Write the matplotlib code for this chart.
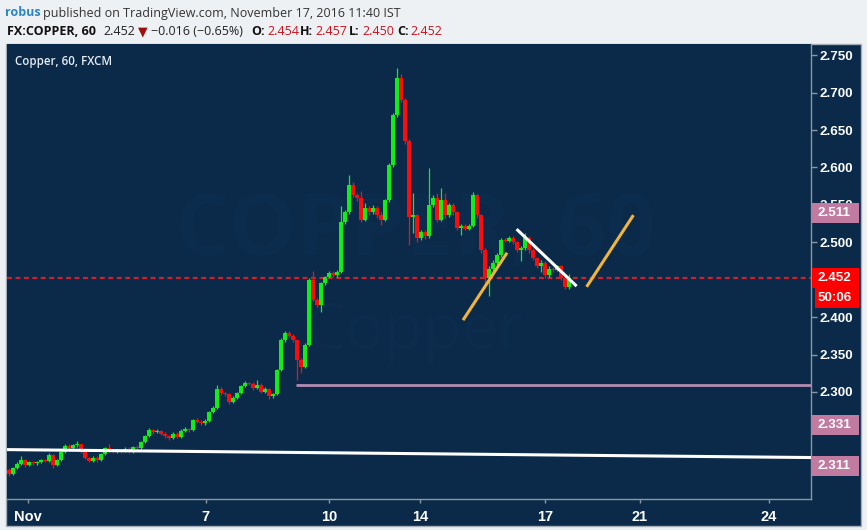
import matplotlib
matplotlib.use('Agg')
import matplotlib.pyplot as plt
from matplotlib.patches import Rectangle
from matplotlib import font_manager

# ---------------- data ----------------
first_open = 2.196
closes = [
    2.190, 2.198, 2.204, 2.209, 2.202, 2.206, 2.205, 2.206, 2.209, 2.208,
    2.216, 2.202, 2.209, 2.220, 2.228, 2.225, 2.229, 2.230, 2.220, 2.212,
    2.208, 2.212, 2.209, 2.217, 2.225, 2.222, 2.220, 2.222, 2.221, 2.224,
    2.220, 2.226, 2.225, 2.233, 2.241, 2.249, 2.246, 2.248, 2.244, 2.241,
    2.238, 2.244, 2.240, 2.248, 2.250, 2.249, 2.262, 2.260, 2.258, 2.261,
    2.273, 2.278, 2.304, 2.298, 2.297, 2.286, 2.292, 2.298, 2.308, 2.312,
    2.311, 2.305, 2.310, 2.300, 2.304, 2.294, 2.297, 2.329, 2.369, 2.379,
    2.375, 2.369, 2.343, 2.334, 2.363, 2.449, 2.423, 2.416, 2.445, 2.453,
    2.459, 2.456, 2.460, 2.527, 2.540, 2.576, 2.563, 2.559, 2.530, 2.546,
    2.540, 2.546, 2.536, 2.530, 2.556, 2.603, 2.670, 2.719, 2.690, 2.636,
    2.534, 2.536, 2.506, 2.514, 2.508, 2.550, 2.559, 2.530, 2.556, 2.536,
    2.550, 2.540, 2.519, 2.522, 2.518, 2.522, 2.563, 2.536, 2.490, 2.452,
    2.465, 2.473, 2.483, 2.503, 2.502, 2.506, 2.500, 2.490, 2.492, 2.506,
    2.490, 2.479, 2.469, 2.473, 2.456, 2.465, 2.463, 2.468, 2.452, 2.440,
    2.452]
highs = [
    2.199, 2.200, 2.206, 2.214, 2.211, 2.208, 2.208, 2.208, 2.211, 2.211,
    2.218, 2.217, 2.211, 2.222, 2.231, 2.230, 2.231, 2.234, 2.231, 2.221,
    2.213, 2.214, 2.214, 2.219, 2.227, 2.230, 2.224, 2.224, 2.224, 2.226,
    2.226, 2.228, 2.229, 2.235, 2.243, 2.252, 2.251, 2.251, 2.249, 2.246,
    2.243, 2.246, 2.246, 2.250, 2.253, 2.252, 2.264, 2.265, 2.262, 2.264,
    2.275, 2.281, 2.310, 2.306, 2.300, 2.298, 2.294, 2.300, 2.310, 2.315,
    2.314, 2.313, 2.316, 2.312, 2.306, 2.305, 2.299, 2.331, 2.372, 2.382,
    2.381, 2.377, 2.370, 2.345, 2.366, 2.452, 2.462, 2.426, 2.447, 2.455,
    2.462, 2.461, 2.463, 2.549, 2.543, 2.590, 2.580, 2.566, 2.568, 2.552,
    2.549, 2.550, 2.548, 2.540, 2.558, 2.606, 2.673, 2.733, 2.725, 2.693,
    2.638, 2.566, 2.538, 2.517, 2.516, 2.599, 2.563, 2.566, 2.572, 2.566,
    2.553, 2.553, 2.542, 2.525, 2.525, 2.524, 2.567, 2.565, 2.538, 2.492,
    2.468, 2.476, 2.486, 2.506, 2.506, 2.508, 2.508, 2.502, 2.495, 2.512,
    2.508, 2.492, 2.481, 2.476, 2.475, 2.468, 2.467, 2.470, 2.470, 2.457,
    2.457]
lows = [
    2.188, 2.189, 2.197, 2.203, 2.200, 2.201, 2.203, 2.203, 2.205, 2.206,
    2.207, 2.199, 2.201, 2.208, 2.219, 2.223, 2.224, 2.227, 2.218, 2.210,
    2.206, 2.207, 2.207, 2.208, 2.216, 2.220, 2.218, 2.219, 2.219, 2.220,
    2.218, 2.219, 2.223, 2.224, 2.232, 2.240, 2.244, 2.245, 2.242, 2.239,
    2.236, 2.237, 2.238, 2.239, 2.246, 2.247, 2.248, 2.258, 2.256, 2.256,
    2.260, 2.272, 2.277, 2.296, 2.295, 2.284, 2.285, 2.291, 2.297, 2.307,
    2.309, 2.303, 2.304, 2.298, 2.299, 2.291, 2.292, 2.296, 2.328, 2.367,
    2.373, 2.367, 2.316, 2.325, 2.332, 2.361, 2.421, 2.413, 2.407, 2.443,
    2.452, 2.454, 2.454, 2.459, 2.525, 2.538, 2.560, 2.555, 2.527, 2.528,
    2.537, 2.538, 2.533, 2.523, 2.528, 2.554, 2.601, 2.668, 2.687, 2.632,
    2.497, 2.512, 2.500, 2.503, 2.505, 2.506, 2.547, 2.527, 2.528, 2.533,
    2.534, 2.537, 2.516, 2.510, 2.516, 2.516, 2.520, 2.533, 2.486, 2.439,
    2.428, 2.462, 2.470, 2.481, 2.500, 2.500, 2.498, 2.487, 2.475, 2.490,
    2.486, 2.476, 2.466, 2.460, 2.452, 2.454, 2.460, 2.461, 2.450, 2.438,
    2.438]
opens = [first_open] + closes[:-1]

x_tick_pos = [4.65, 49.15, 80.0, 102.75, 134.0, 157.75, 190.0]
x_tick_labels = ['Nov', '7', '10', '14', '17', '21', '24']
y_ticks = [2.300, 2.350, 2.400, 2.450, 2.500, 2.550, 2.600, 2.650, 2.700, 2.750]
# 2.450 sits fully under the last-price badge in the reference
y_tick_labels = ['2.300', '2.350', '2.400', '', '2.500', '2.550', '2.600',
                 '2.650', '2.700', '2.750']

last_price = 2.452
support_level = 2.310
# drawn trend lines: (x0, y0, x1, y1) in bar index / price
white_long = (-0.5, 2.2230, 200.5, 2.2124)
white_short = (126.9, 2.5176, 141.9, 2.4414)
orange_1 = (113.5, 2.396, 124.5, 2.486)
orange_2 = (144.4, 2.4405, 156.1, 2.5363)
support_start = 71.75

badge_labels = ['2.511', '2.452', '50:06', '2.331', '2.311']
badge_prices = [2.539, 2.452, 2.4255, 2.2559, 2.2011]
badge_colors = ['#c27ba0', '#ff0000', '#ff0000', '#c27ba0', '#c27ba0']

# ---------------- style ----------------
BG = '#0b2a4a'
UP = '#12ee12'
DN = '#ff0b0b'
GRID = '#8a96a0'

names = {f.name for f in font_manager.fontManager.ttflist}
NARROW = 'Liberation Sans Narrow' if 'Liberation Sans Narrow' in names else 'Liberation Sans'

W, H = 867, 530
fig = plt.figure(figsize=(W / 100, H / 100), dpi=100, facecolor='#eef1f4')


def fx(px):
    return px / W


def fy(py):
    return 1 - py / H


panel = Rectangle((fx(6), fy(526)), fx(861) - fx(6), fy(44) - fy(526),
                  transform=fig.transFigure, facecolor=BG, edgecolor='#a4adb5',
                  lw=1, zorder=-1)
fig.add_artist(panel)

ax = fig.add_axes([fx(7), fy(499), fx(811) - fx(7), fy(44) - fy(499)])
ax.set_facecolor(BG)
ax.set_xlim(-0.5, 200.5)
ax.set_ylim(2.157, 2.765)

# watermark
WM = '#0c2c4d'
ax.text(fx(415), fy(232), 'COPPER, 60', transform=fig.transFigure, fontsize=62,
        fontweight='bold', family='Open Sans', color=WM, ha='center',
        va='center', zorder=0.5)
ax.text(fx(415), fy(332), 'Copper', transform=fig.transFigure, fontsize=46,
        family='Open Sans', color=WM, ha='center', va='center', zorder=0.5)

# candles
n = len(closes)
xs = list(range(n))
cols = [UP if c >= o else DN for o, c in zip(opens, closes)]
ax.vlines(xs, lows, highs, colors=cols, lw=0.9, zorder=3)
bottoms = [min(o, c) for o, c in zip(opens, closes)]
heights = [max(abs(c - o), 0.0012) for o, c in zip(opens, closes)]
ax.bar(xs, heights, bottom=bottoms, width=0.8, color=cols, linewidth=0, zorder=3)

# lines
ax.axhline(last_price, color='#d0202a', lw=1.6, ls=(0, (2.2, 1.6)), zorder=2)
ax.plot([support_start, 200.5], [support_level, support_level], color='#b48cb4',
        lw=2, zorder=2, solid_capstyle='butt')
for ln, c in [(white_long, 'white'), (white_short, 'white'),
              (orange_1, '#f2b53c'), (orange_2, '#f2b53c')]:
    ax.plot([ln[0], ln[2]], [ln[1], ln[3]], color=c, lw=2.2, zorder=4,
            solid_capstyle='butt')

# axes style
for s in ['top', 'left']:
    ax.spines[s].set_visible(False)
for s in ['right', 'bottom']:
    ax.spines[s].set_color(GRID)
    ax.spines[s].set_linewidth(1)
ax.yaxis.tick_right()
ax.set_yticks(y_ticks)
ax.set_yticklabels(y_tick_labels)
ax.tick_params(axis='y', colors=GRID, length=4, width=1, pad=2, labelcolor='white',
               labelsize=9.6)
for t in ax.get_yticklabels():
    t.set_family('Liberation Sans')
    t.set_fontweight('bold')
ax.set_xticks(x_tick_pos)
ax.set_xticklabels(x_tick_labels)
ax.tick_params(axis='x', colors=GRID, length=3, width=1, pad=5, labelcolor='white',
               labelsize=10.5)
for t in ax.get_xticklabels():
    t.set_family(NARROW)
    t.set_fontweight('bold')

# label in chart
fig.text(fx(15), fy(65), 'Copper, 60, FXCM', fontsize=8.3, family='Open Sans',
         fontweight='semibold', color='#e6edf3', va='baseline')

# price badges on axis
fig.canvas.draw()
for lab, pr, col in zip(badge_labels, badge_prices, badge_colors):
    yd = ax.transData.transform((0, pr))[1]
    yc = H - yd
    x0 = 815 if lab == '50:06' else 812
    fig.add_artist(Rectangle((fx(x0), fy(yc + 10)), fx(859) - fx(x0), 20 / H,
                             transform=fig.transFigure, facecolor=col,
                             edgecolor='none', zorder=5))
    fig.text(fx(818), fy(yc), lab, fontsize=9.6, family='Liberation Sans',
             fontweight='bold', color='white', va='center', ha='left', zorder=6)

# header
HF = ['Open Sans', 'DejaVu Sans']
fs = 9.0
fig.text(fx(5), fy(16.5), 'robus', fontsize=fs, family=HF, fontweight='bold',
         color='#2a86c6', va='baseline')
fig.text(fx(43), fy(16.5), 'published on TradingView.com, November 17, 2016 11:40 IST',
         fontsize=fs, family=HF, color='#333333', va='baseline')
pieces = [
    (7, 'FX:COPPER, 60', 'bold', '#111111'),
    (103, '2.452', 'normal', '#222222'),
    (138, '\u25bc', 'normal', '#a00d0d'),
    (151, '\u22120.016 (\u22120.65%)', 'normal', '#222222'),
    (251, 'O:', 'bold', '#111111'),
    (267, '2.454', 'normal', '#c8141e'),
    (300, 'H:', 'bold', '#111111'),
    (315, '2.457', 'normal', '#c8141e'),
    (349, 'L:', 'bold', '#111111'),
    (362, '2.450', 'normal', '#c8141e'),
    (397, 'C:', 'bold', '#111111'),
    (410, '2.452', 'normal', '#c8141e'),
]
for px, s, w, c in pieces:
    fam = ['DejaVu Sans'] if s == '\u25bc' else HF
    fig.text(fx(px), fy(35), s, fontsize=fs, family=fam, fontweight=w, color=c,
             va='baseline')

fig.savefig('out.png', dpi=100, facecolor=fig.get_facecolor())
